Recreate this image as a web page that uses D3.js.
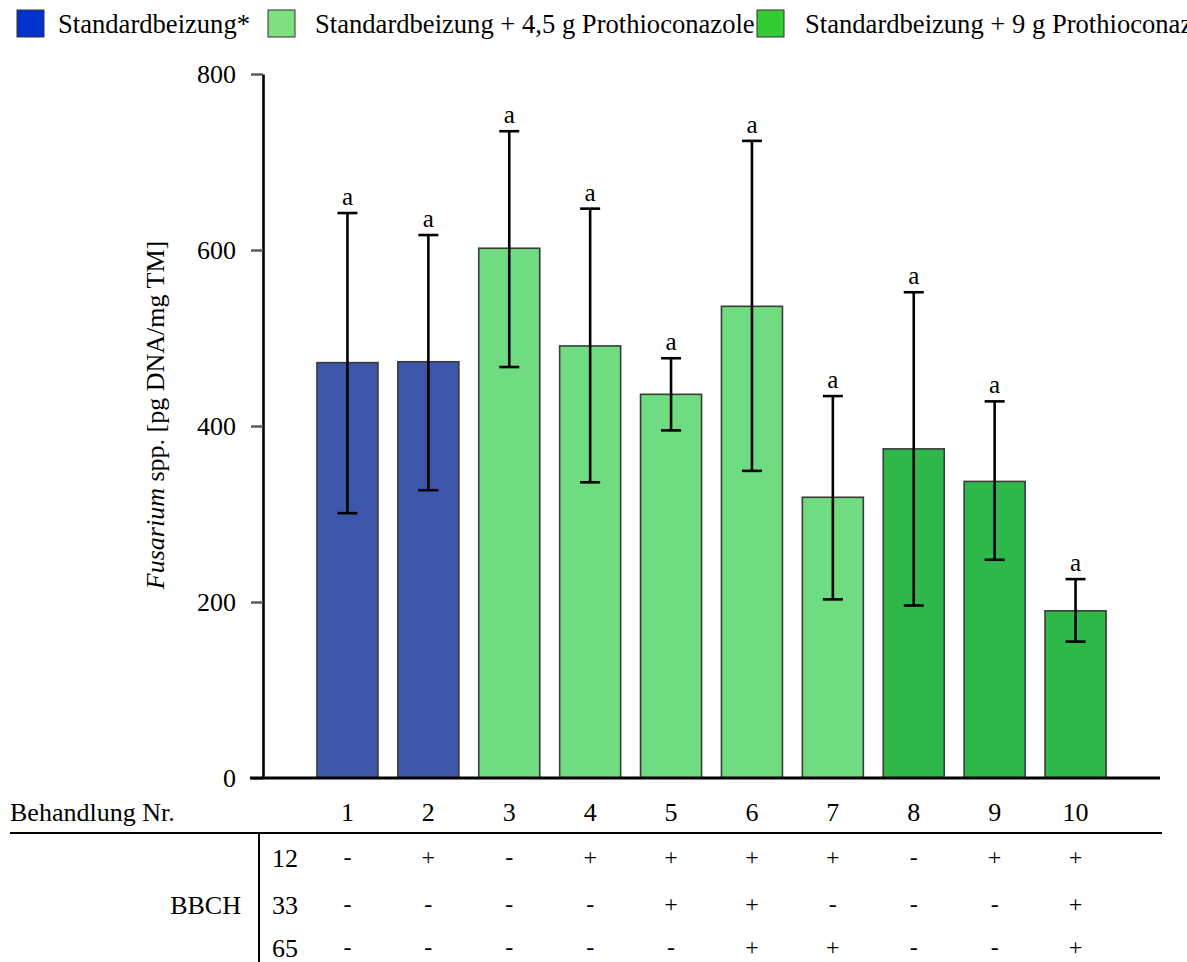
<!DOCTYPE html>
<html>
<head>
<meta charset="utf-8">
<script src="https://cdn.jsdelivr.net/npm/d3@7"></script>
<style>
  html, body { margin: 0; padding: 0; background: #fff; }
  svg { display: block; font-family: "Liberation Serif", "Times New Roman", serif; }
</style>
</head>
<body>
<svg id="chart" width="1187" height="962"></svg>
<script>
// Treatments and measured Fusarium DNA (mean ± SD)
const treatments = ["1", "2", "3", "4", "5", "6", "7", "8", "9", "10"];
const groups = [0, 0, 1, 1, 1, 1, 1, 2, 2, 2];
const means = [472, 473, 602, 491, 436, 536, 319, 374, 337, 190];
const errTop = [642, 617, 735, 647, 477, 724, 434, 552, 428, 226];
const errBottom = [301, 327, 467, 336, 395, 349, 203, 196, 248, 155];
const letters = ["a", "a", "a", "a", "a", "a", "a", "a", "a", "a"];
const yTicks = [0, 200, 400, 600, 800];

// Legend entries
const legendLabels = ["Standardbeizung*", "Standardbeizung + 4,5 g Prothioconazole", "Standardbeizung + 9 g Prothioconazole"];
const legendColors = ["#0033cc", "#80e080", "#33cc33"];
const barColors = ["#3e56a9", "#70dc82", "#2eb84a"];

// Application timing table (BBCH stages)
const bbchStages = ["12", "33", "65"];
const bbch12 = ["-", "+", "-", "+", "+", "+", "+", "-", "+", "+"];
const bbch33 = ["-", "-", "-", "-", "+", "+", "-", "-", "-", "+"];
const bbch65 = ["-", "-", "-", "-", "-", "+", "+", "-", "-", "+"];
const bbchRows = [bbch12, bbch33, bbch65];

const svg = d3.select("#chart");

const x = d3.scaleBand().domain(treatments).range([263, 1160]).paddingInner(0.246).paddingOuter(0.667);
const y = d3.scaleLinear().domain([0, 800]).range([778, 74]);

// Legend
const legend = svg.append("g");
const legendX = [17, 268, 757];
const legendTextX = [58, 315, 805];
legendLabels.forEach((lab, i) => {
  legend.append("rect")
    .attr("x", legendX[i]).attr("y", 10).attr("width", 27).attr("height", 27)
    .attr("fill", legendColors[i]).attr("stroke", "#333").attr("stroke-width", 1);
  legend.append("text")
    .attr("x", legendTextX[i]).attr("y", 33)
    .attr("font-size", 26.6).attr("fill", "#000")
    .text(lab);
});

// Bars
svg.append("g").selectAll("rect")
  .data(means)
  .join("rect")
  .attr("x", (d, i) => x(treatments[i]))
  .attr("y", d => y(d))
  .attr("width", x.bandwidth())
  .attr("height", d => y(0) - y(d))
  .attr("fill", (d, i) => barColors[groups[i]])
  .attr("stroke", "#3a3a3a")
  .attr("stroke-width", 1.6);

// Error bars
const eb = svg.append("g").attr("stroke", "#000").attr("stroke-width", 2.6);
treatments.forEach((t, i) => {
  const cx = x(t) + x.bandwidth() / 2;
  eb.append("line").attr("x1", cx).attr("x2", cx).attr("y1", y(errTop[i])).attr("y2", y(errBottom[i]));
  eb.append("line").attr("x1", cx - 10).attr("x2", cx + 10).attr("y1", y(errTop[i])).attr("y2", y(errTop[i]));
  eb.append("line").attr("x1", cx - 10).attr("x2", cx + 10).attr("y1", y(errBottom[i])).attr("y2", y(errBottom[i]));
});

// Significance letters
svg.append("g").selectAll("text")
  .data(letters)
  .join("text")
  .attr("x", (d, i) => x(treatments[i]) + x.bandwidth() / 2)
  .attr("y", (d, i) => y(errTop[i]) - 8)
  .attr("text-anchor", "middle")
  .attr("font-size", 25)
  .text(d => d);

// Y axis
const yAxis = svg.append("g")
  .attr("transform", "translate(263,0)")
  .call(d3.axisLeft(y).tickValues(yTicks).tickSize(12).tickSizeOuter(0).tickPadding(15));
yAxis.select(".domain").attr("stroke", "#000").attr("stroke-width", 2.6);
yAxis.selectAll(".tick line").attr("stroke", "#555").attr("stroke-width", 2.4);
yAxis.selectAll(".tick text")
  .attr("font-family", "Liberation Serif, Times New Roman, serif")
  .attr("font-size", 26).attr("fill", "#000").attr("dy", "0.33em");

// Baseline
svg.append("line")
  .attr("x1", 250).attr("x2", 1160).attr("y1", y(0)).attr("y2", y(0))
  .attr("stroke", "#000").attr("stroke-width", 3);

// Y axis title
const yTitle = svg.append("text")
  .attr("transform", "translate(164,415) rotate(-90)")
  .attr("text-anchor", "middle")
  .attr("font-size", 26);
yTitle.append("tspan").attr("font-style", "italic").text("Fusarium");
yTitle.append("tspan").text(" spp. [pg DNA/mg TM]");

// Treatment table
const table = svg.append("g").attr("font-size", 26);
table.append("text").attr("x", 10).attr("y", 821).text("Behandlung Nr.");
table.selectAll("text.num")
  .data(treatments)
  .join("text")
  .attr("class", "num")
  .attr("x", d => x(d) + x.bandwidth() / 2)
  .attr("y", 821)
  .attr("text-anchor", "middle")
  .text(d => d);

table.append("line").attr("x1", 10).attr("x2", 1162).attr("y1", 833).attr("y2", 833)
  .attr("stroke", "#000").attr("stroke-width", 2);
table.append("line").attr("x1", 259).attr("x2", 259).attr("y1", 833).attr("y2", 962)
  .attr("stroke", "#000").attr("stroke-width", 2);

table.append("text").attr("x", 241).attr("y", 914).attr("text-anchor", "end").text("BBCH");

const rowY = [867, 914, 957];
bbchStages.forEach((s, r) => {
  table.append("text").attr("x", 272).attr("y", rowY[r]).text(s);
  table.append("g").selectAll("text")
    .data(bbchRows[r])
    .join("text")
    .attr("x", (d, i) => x(treatments[i]) + x.bandwidth() / 2)
    .attr("y", rowY[r] - 2)
    .attr("text-anchor", "middle")
    .attr("font-size", 24)
    .text(d => d);
});
</script>
</body>
</html>
